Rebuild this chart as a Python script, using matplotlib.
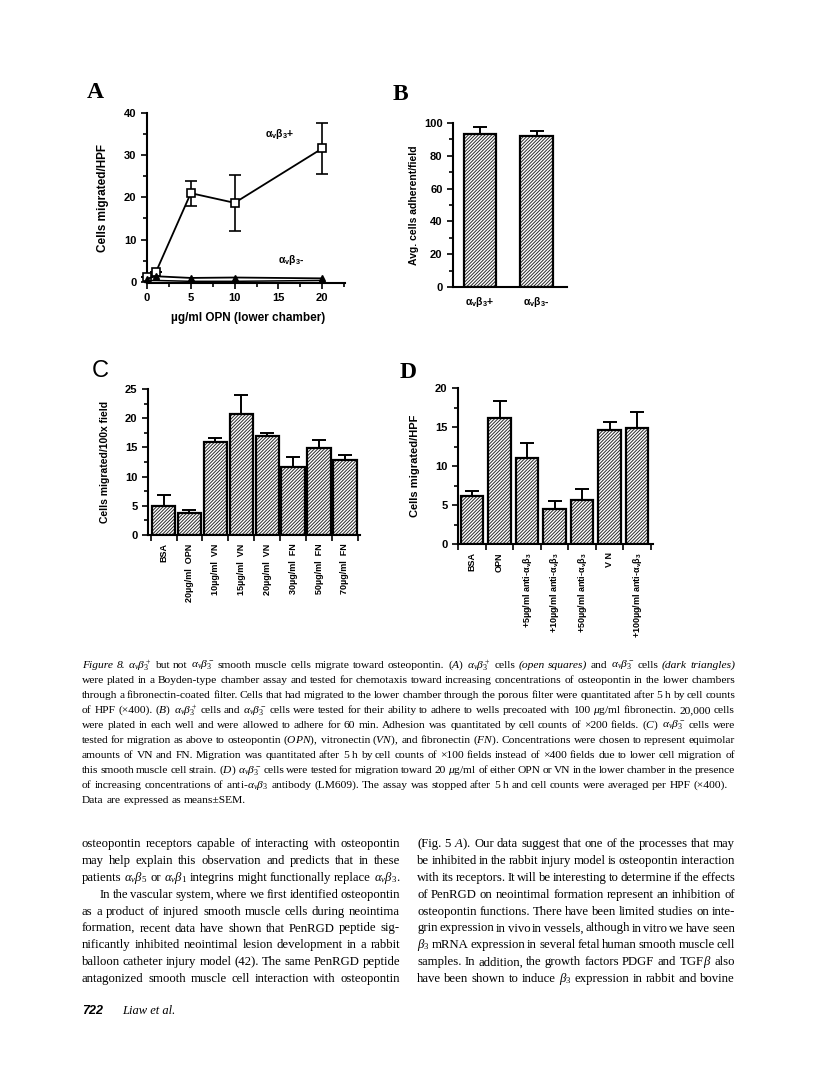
import numpy as np
import matplotlib
matplotlib.use('Agg')
import matplotlib.pyplot as plt
from matplotlib.transforms import IdentityTransform
from matplotlib.ticker import MultipleLocator, FixedLocator

W, H = 816, 1078

# ---- data ----
a_conc = [0, 1, 5, 10, 20]
a_pos = [1.1, 2.2, 21.0, 18.7, 31.6]
a_pos_lo = [0, 0, 3.0, 6.7, 6.1]
a_pos_hi = [0, 0, 2.8, 6.5, 6.0]
a_neg = [0.7, 1.3, 0.9, 1.0, 0.8]
a_base = [0.3, 0.3, 0.1, 0.1, 0.3]

b_labels = [r'$\mathbf{\alpha_v\beta_3}$+', r'$\mathbf{\alpha_v\beta_3}$-']
b_vals = [93.5, 92.3]
b_err = [4.3, 2.7]

c_labels = ['BSA', '20µg/ml  OPN', '10µg/ml  VN', '15µg/ml  VN', '20µg/ml  VN',
            '30µg/ml  FN', '50µg/ml  FN', '70µg/ml  FN']
c_vals = [5.0, 3.7, 16.0, 20.7, 17.0, 11.7, 14.9, 12.9]
c_err = [1.9, 0.6, 0.6, 3.2, 0.5, 1.7, 1.3, 0.8]

d_labels = ['BSA', 'OPN', r'+5µg/ml anti-$\mathbf{\alpha_v\beta_3}$',
            r'+10µg/ml anti-$\mathbf{\alpha_v\beta_3}$',
            r'+50µg/ml anti-$\mathbf{\alpha_v\beta_3}$', 'V N',
            r'+100µg/ml anti-$\mathbf{\alpha_v\beta_3}$']
d_vals = [6.2, 16.1, 11.0, 4.5, 5.6, 14.6, 14.9]
d_err = [0.6, 2.2, 2.0, 1.0, 1.5, 1.0, 2.0]

ab = r'$\alpha_v\beta_3$'
abp = r'$\alpha_v\beta_3^+$'
abm = r'$\alpha_v\beta_3^-$'
caption = [
    f"*Figure* *8.* {abp} but not {abm} smooth muscle cells migrate toward osteopontin. $(A)$ {abp} cells *(open* *squares)* and {abm} cells *(dark* *triangles)*",
    "were plated in a Boyden-type chamber assay and tested for chemotaxis toward increasing concentrations of osteopontin in the lower chambers",
    "through a fibronectin-coated filter. Cells that had migrated to the lower chamber through the porous filter were quantitated after 5 h by cell counts",
    f"of HPF (×400). $(B)$ {abp} cells and {abm} cells were tested for their ability to adhere to wells precoated with 100 $\\mu$g/ml fibronectin. 20,000 cells",
    f"were plated in each well and were allowed to adhere for 60 min. Adhesion was quantitated by cell counts of ×200 fields. $(C)$ {abm} cells were",
    r"tested for migration as above to osteopontin $(\mathit{OPN})$, vitronectin $(\mathit{VN})$, and fibronectin $(\mathit{FN})$. Concentrations were chosen to represent equimolar",
    "amounts of VN and FN. Migration was quantitated after 5 h by cell counts of ×100 fields instead of ×400 fields due to lower cell migration of",
    f"this smooth muscle cell strain. $(D)$ {abm} cells were tested for migration toward 20 $\\mu$g/ml of either OPN or VN in the lower chamber in the presence",
    f"of increasing concentrations of anti-{ab} antibody (LM609). The assay was stopped after 5 h and cell counts were averaged per HPF (×400).",
    "Data are expressed as means±SEM.",
]
left_col = [
    "osteopontin receptors capable of interacting with osteopontin",
    "may help explain this observation and predicts that in these",
    r"patients $\alpha_v\beta_5$ or $\alpha_v\beta_1$ integrins might functionally replace $\alpha_v\beta_3$.",
    "In the vascular system, where we first identified osteopontin",
    "as a product of injured smooth muscle cells during neointima",
    "formation, recent data have shown that PenRGD peptide sig-",
    "nificantly inhibited neointimal lesion development in a rabbit",
    "balloon catheter injury model (42). The same PenRGD peptide",
    "antagonized smooth muscle cell interaction with osteopontin",
]
right_col = [
    "(Fig. 5 $A$). Our data suggest that one of the processes that may",
    "be inhibited in the rabbit injury model is osteopontin interaction",
    "with its receptors. It will be interesting to determine if the effects",
    "of PenRGD on neointimal formation represent an inhibition of",
    "osteopontin functions. There have been limited studies on inte-",
    "grin expression in vivo in vessels, although in vitro we have seen",
    r"$\beta_3$ mRNA expression in several fetal human smooth muscle cell",
    r"samples. In addition, the growth factors PDGF and TGF$\beta$ also",
    r"have been shown to induce $\beta_3$ expression in rabbit and bovine",
]

plt.rcParams['font.family'] = ['Liberation Sans', 'DejaVu Sans']
plt.rcParams['font.weight'] = 'bold'
plt.rcParams['axes.labelweight'] = 'bold'
plt.rcParams['mathtext.fontset'] = 'custom'
plt.rcParams['mathtext.rm'] = 'Liberation Serif:weight=normal'
plt.rcParams['mathtext.it'] = 'Liberation Serif:style=italic:weight=normal'
plt.rcParams['mathtext.bf'] = 'Liberation Sans:weight=bold'
plt.rcParams['hatch.linewidth'] = 0.7

fig = plt.figure(figsize=(W / 100, H / 100), dpi=100)


def add_ax(left, top, right, bottom):
    return fig.add_axes([left / W, 1 - bottom / H, (right - left) / W, (bottom - top) / H])


def style(ax, fs=8):
    for s in ['top', 'right']:
        ax.spines[s].set_visible(False)
    for s in ['left', 'bottom']:
        ax.spines[s].set_linewidth(1.5)
    ax.tick_params(which='both', direction='out', width=1.2, labelsize=fs)
    ax.tick_params(which='major', length=4)
    ax.tick_params(which='minor', length=3)


def bars(ax, vals, err, width):
    x = np.arange(len(vals))
    ax.bar(x, vals, width, color='white', edgecolor='#2a2a2a', hatch='//////////', linewidth=0)
    ax.bar(x, vals, width, fill=False, edgecolor='black', linewidth=1.6)
    ax.errorbar(x, vals, yerr=[np.zeros(len(vals)), err], fmt='none', ecolor='black',
                elinewidth=1.4, capsize=5, capthick=1.4)
    ax.xaxis.set_major_locator(FixedLocator(x))
    ax.xaxis.set_minor_locator(FixedLocator(np.arange(-0.5, len(vals), 1.0)))
    ax.tick_params(axis='x', which='major', length=0, pad=6)
    ax.tick_params(axis='x', which='minor', length=4)


# ---- A ----
axA = add_ax(147, 113, 345, 283)
style(axA)
axA.errorbar(a_conc, a_pos, yerr=[a_pos_lo, a_pos_hi], color='black', lw=1.3, marker='s',
             ms=6, mfc='white', mec='black', mew=1.2, capsize=4, capthick=1.2,
             elinewidth=1.2, clip_on=False, zorder=3)
axA.plot(a_conc, a_neg, color='black', lw=1.3, marker='^', ms=5, clip_on=False, zorder=4)
axA.plot(a_conc, a_base, color='black', lw=1.1, clip_on=False)
axA.set_xlim(0, 22.6)
axA.set_ylim(-0.3, 40)
axA.xaxis.set_major_locator(FixedLocator([0, 5, 10, 15, 20]))
axA.xaxis.set_minor_locator(MultipleLocator(2.5))
axA.yaxis.set_major_locator(MultipleLocator(10))
axA.yaxis.set_minor_locator(MultipleLocator(5))
axA.set_ylabel('Cells migrated/HPF', fontsize=8.5)
axA.yaxis.set_label_coords(-0.222, 0.5)
axA.yaxis.label.set_va('center')
axA.set_xlabel('µg/ml OPN (lower chamber)', fontsize=8.5)
axA.xaxis.set_label_coords(0.51, -0.206)
axA.xaxis.label.set_va('center')
axA.text(13.5, 35, r'$\mathbf{\alpha_v\beta_3}$+', fontsize=7.5, va='center')
axA.text(15.0, 5.2, r'$\mathbf{\alpha_v\beta_3}$-', fontsize=7.5, va='center')

# ---- B ----
axB = add_ax(453, 123, 567, 287)
style(axB)
bars(axB, b_vals, b_err, 0.58)
axB.set_xlim(-0.48, 1.54)
axB.set_ylim(0, 100)
axB.yaxis.set_major_locator(MultipleLocator(20))
axB.yaxis.set_minor_locator(MultipleLocator(10))
axB.xaxis.set_minor_locator(FixedLocator([]))
axB.set_xticklabels(b_labels, fontsize=7.5)
axB.set_ylabel('Avg. cells adherent/field', fontsize=7.5)
axB.yaxis.set_label_coords(-0.342, 0.5)
axB.yaxis.label.set_va('center')

# ---- C ----
axC = add_ax(148, 389, 360, 535)
style(axC)
bars(axC, c_vals, c_err, 0.9)
axC.set_xlim(-0.6, 7.58)
axC.set_ylim(0, 25)
axC.yaxis.set_major_locator(MultipleLocator(5))
axC.yaxis.set_minor_locator(MultipleLocator(2.5))
axC.set_xticklabels(c_labels, rotation=90, fontsize=6.5, va='top', ha='center')
axC.set_ylabel('Cells migrated/100x field', fontsize=7.5)
axC.yaxis.set_label_coords(-0.203, 0.5)
axC.yaxis.label.set_va('center')

# ---- D ----
axD = add_ax(458, 388, 653, 544)
style(axD)
bars(axD, d_vals, d_err, 0.82)
axD.set_xlim(-0.51, 6.58)
axD.set_ylim(0, 20)
axD.yaxis.set_major_locator(MultipleLocator(5))
axD.yaxis.set_minor_locator(MultipleLocator(2.5))
axD.set_xticklabels(d_labels, rotation=90, fontsize=6.5, va='top', ha='center')
axD.set_ylabel('Cells migrated/HPF', fontsize=8)
axD.yaxis.set_label_coords(-0.22, 0.5)
axD.yaxis.label.set_va('center')

# panel letters
for letter, x, y, fam in [('A', 95, 92, 'Liberation Serif'), ('B', 400, 95, 'Liberation Serif'),
                          ('C', 100, 371, 'Liberation Sans'), ('D', 408, 373, 'Liberation Serif')]:
    fig.text(x / W, 1 - y / H, letter, fontsize=17, family=fam,
             fontweight='normal' if letter == 'C' else 'bold', ha='center', va='center')

# ---- text blocks (justified word by word) ----
renderer = fig.canvas.get_renderer()
SERIF = ['Liberation Serif', 'DejaVu Serif']
BASE = 10.0
EM = BASE * 100 / 72


def split_words(line):
    out = []
    for w in line.split(' '):
        st = 'normal'
        if len(w) > 1 and w.startswith('*') and w.endswith('*'):
            w, st = w[1:-1], 'italic'
        out.append((w, st))
    return out


def word_widths(words, size):
    ws = []
    for w, st in words:
        t = fig.text(0, 0, w, transform=IdentityTransform(), fontsize=size, family=SERIF,
                     fontstyle=st, fontweight='normal')
        ws.append(t.get_window_extent(renderer).width)
        t.remove()
    return ws


def block_size(lines, width):
    sizes = []
    for line in lines:
        words = split_words(line)
        wsum = sum(word_widths(words, BASE))
        sizes.append(BASE * width / (wsum + (len(words) - 1) * 0.25 * EM))
    return float(np.median(sizes))


def put_line(x0, x1, y, line, size, justify=True):
    words = split_words(line)
    n = len(words) - 1
    wsum = sum(word_widths(words, BASE))
    # shrink a crowded line so that its gaps stay at least 0.12 em
    if justify and n > 0:
        max_size = BASE * (x1 - x0) / (wsum + n * 0.12 * EM)
        size = min(size, max_size)
    texts = [fig.text(0, 0, w, transform=IdentityTransform(), fontsize=size, family=SERIF,
                      fontstyle=st, fontweight='normal', ha='left', va='baseline')
             for w, st in words]
    widths = word_widths(words, size)
    gap = size * 100 / 72 * 0.25
    if justify and n > 0:
        gap = (x1 - x0 - sum(widths)) / n
    x = x0
    for t, wd in zip(texts, widths):
        t.set_position((x, H - y))
        x += wd + gap


cap_size = block_size(caption[:8], 653)
for i, line in enumerate(caption):
    put_line(82, 735, 668 + i * 15, line, cap_size, justify=i < 8)

body_size = block_size(left_col + right_col, 318)
for i, line in enumerate(left_col):
    x0 = 100 if i == 3 else 82
    put_line(x0, 400, 847 + i * 16.9, line, body_size)
for i, line in enumerate(right_col):
    put_line(417, 735, 847 + i * 16.9, line, body_size)

fig.text(82 / W, 1 - 1014 / H, '722', fontsize=9, fontweight='bold', fontstyle='italic',
         ha='left', va='baseline')
fig.text(122 / W, 1 - 1014 / H, 'Liaw et al.', fontsize=9, family=SERIF, fontweight='normal',
         fontstyle='italic', ha='left', va='baseline')

fig.savefig('out.png', dpi=100)
